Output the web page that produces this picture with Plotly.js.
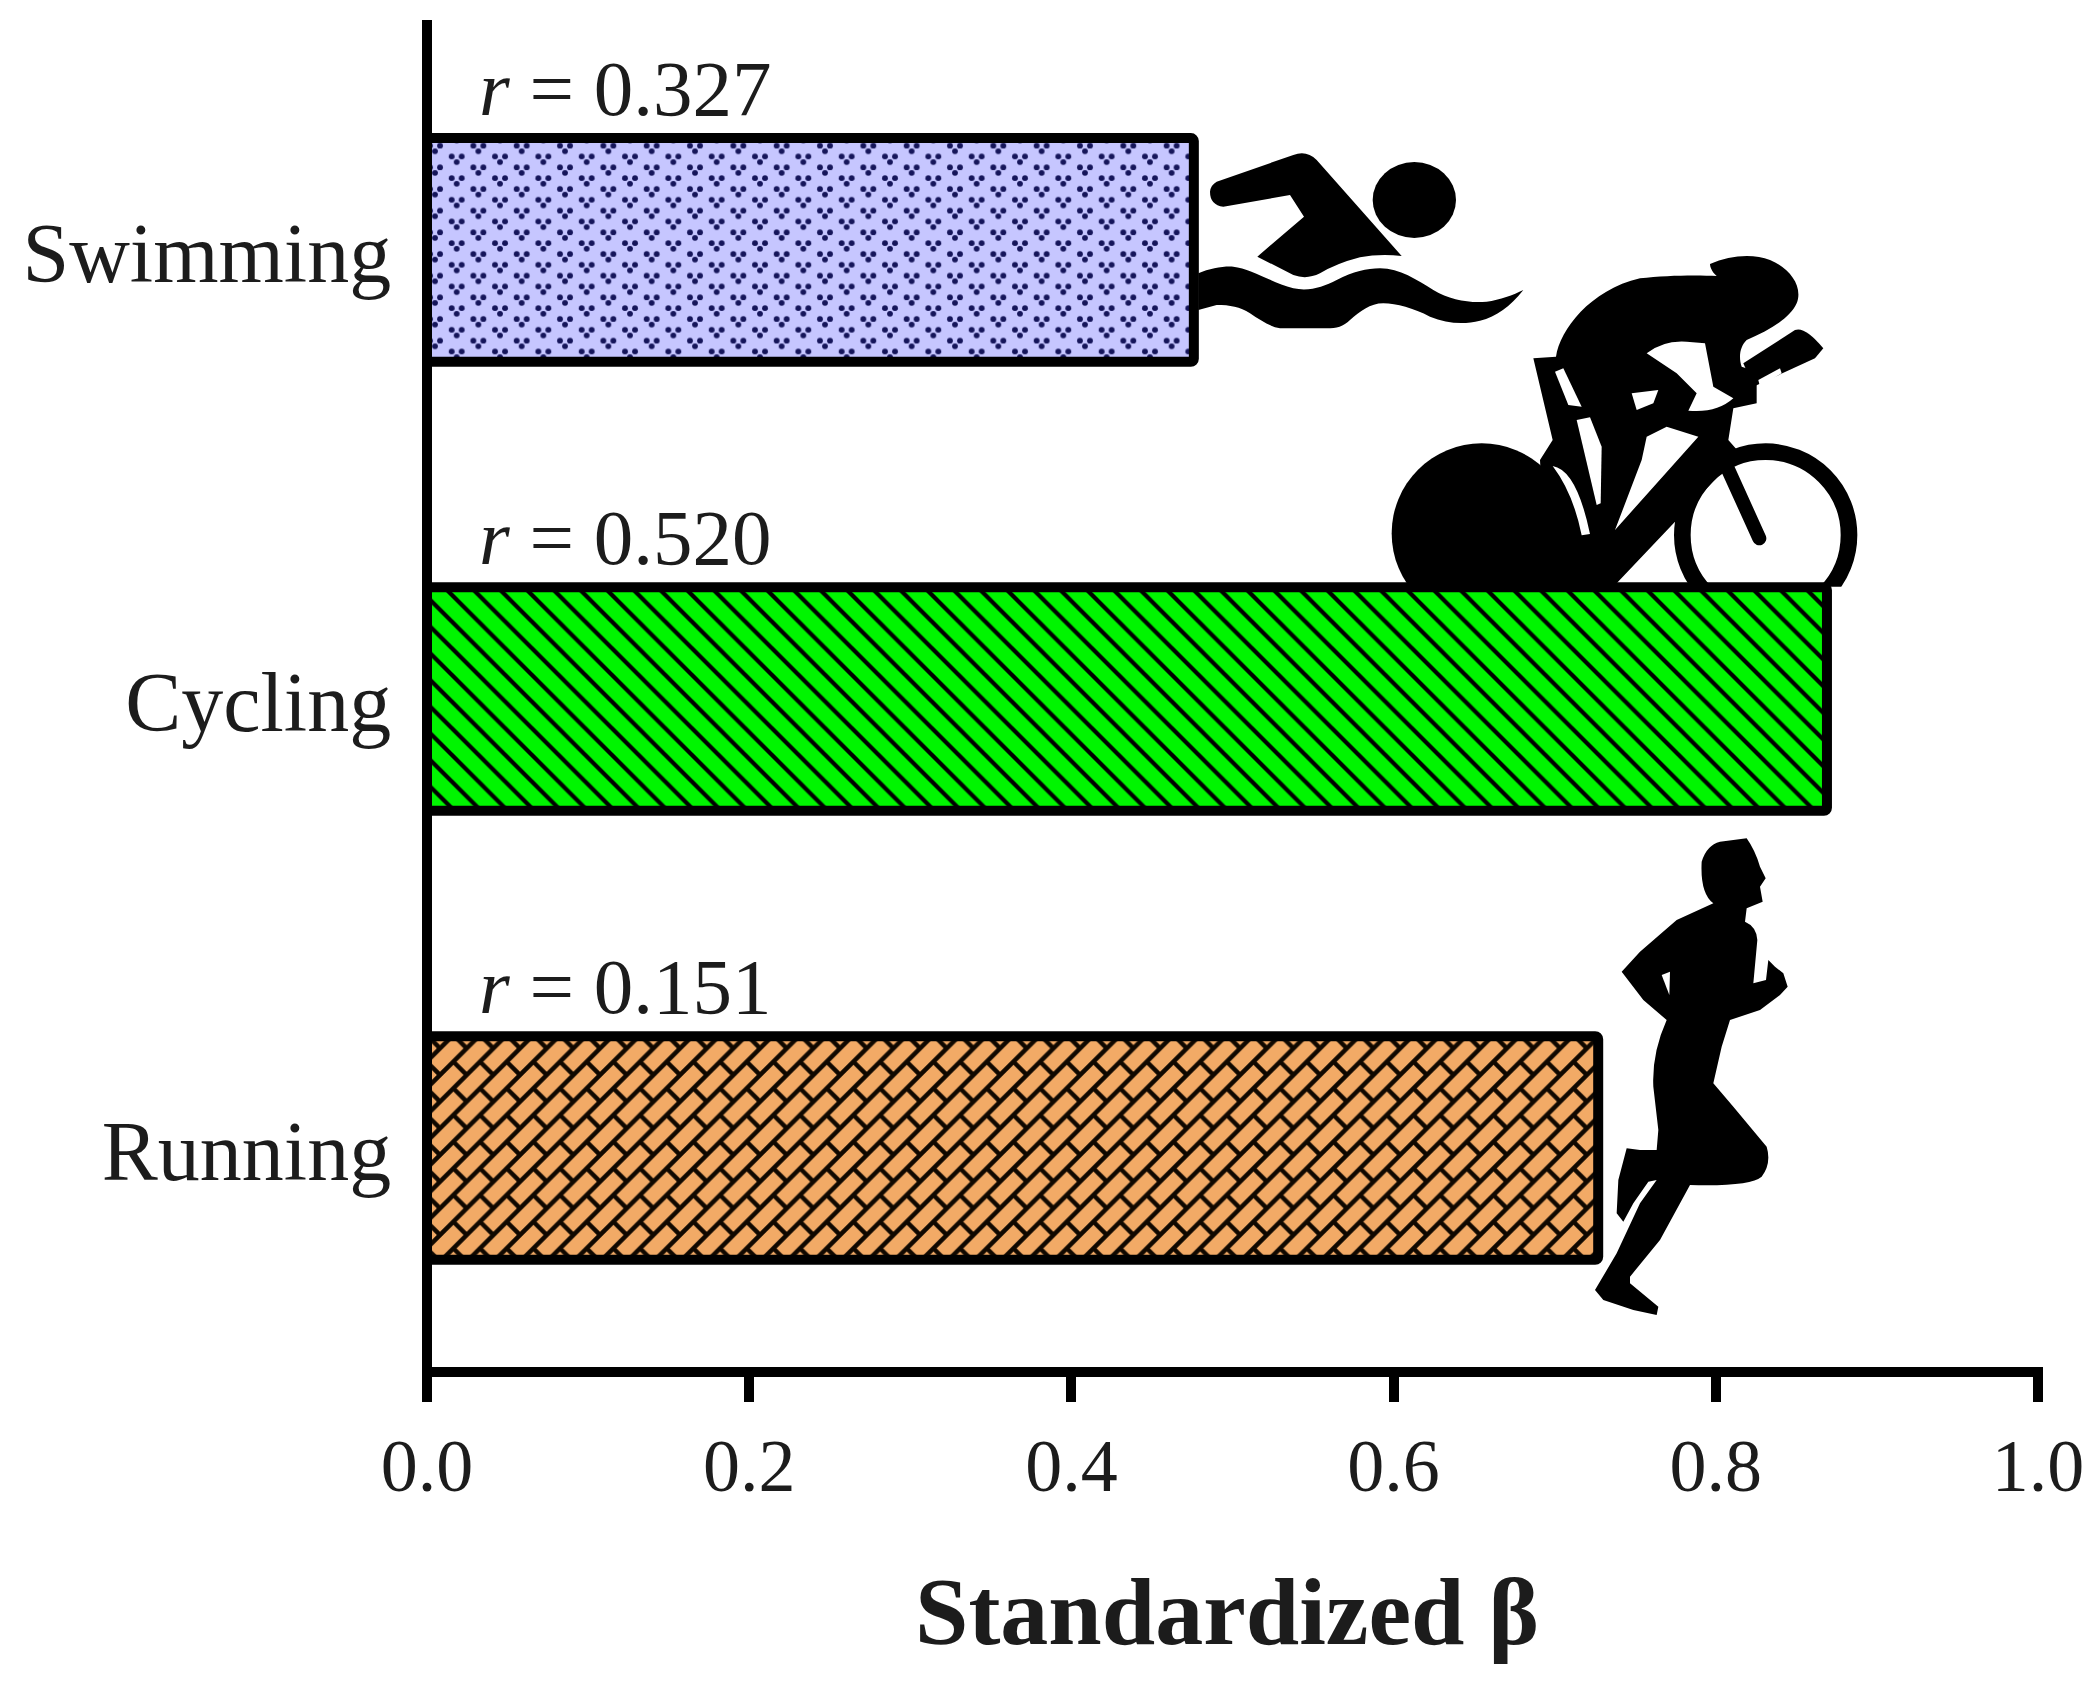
<!DOCTYPE html>
<html>
<head>
<meta charset="utf-8">
<script src="https://cdn.plot.ly/plotly-3.0.1.min.js"></script>
<style>html,body{margin:0;padding:0;background:#fff}#chart{width:2100px;height:1689px}</style>
</head>
<body>
<div id="chart"></div>
<script>
// ---- chart data ----
const categories = ["Running", "Cycling", "Swimming"];
const betaValues = [0.727, 0.869, 0.476];
const rValues = ["0.151", "0.520", "0.327"];
const barColors = ["#f2aa66", "#00f500", "#c6c6ff"];
const xTicks = [0, 0.2, 0.4, 0.6, 0.8, 1.0];
const xTickLabels = ["0.0", "0.2", "0.4", "0.6", "0.8", "1.0"];

// ---- page geometry ----
const W = 2100, H = 1689;
const L = 427, R = 2043, T = 20, B = 1377;
const PW = R - L, PH = B - T;
const TXT = "#1c1c1c";
const SERIF = '"Liberation Serif", serif';

// ---- silhouettes (drawn in their own local picture space) ----
const swimmerSvg = `<svg xmlns="http://www.w3.org/2000/svg" viewBox="0 0 1080 660" preserveAspectRatio="none">
<path fill="#000" d="M110,125 L340,45 Q380,30 410,60 L665,348 Q600,340 540,352 Q470,370 420,400 Q380,420 340,405 L232,350 L372,230 L330,165 L130,200 Q90,195 90,155 Q92,135 110,125 Z"/>
<ellipse fill="#000" cx="703" cy="180" rx="125" ry="114"/>
<path fill="#000" d="M55,400 C90,385 130,378 160,380 C210,385 270,425 340,445 C390,455 430,440 470,420 C520,395 560,385 600,385 C660,385 710,420 760,450 C810,480 870,490 920,485 C960,480 1000,465 1030,450 C990,500 950,530 900,542 C850,555 800,550 750,530 C700,505 650,490 610,490 C570,490 540,515 510,540 C490,560 470,565 440,565 L300,565 C270,560 240,540 210,520 C180,500 150,495 110,495 L55,510 Z"/>
</svg>`;

const cyclistSvg = `<svg xmlns="http://www.w3.org/2000/svg" viewBox="-30 0 1470 1140" preserveAspectRatio="none">
<defs><clipPath id="c"><rect x="-30" y="0" width="1470" height="1040"/></clipPath></defs>
<g clip-path="url(#c)">
<circle cx="245" cy="880" r="270" fill="#000"/>
<circle cx="1097" cy="885" r="250" fill="none" stroke="#000" stroke-width="50"/>
<path fill="#000" d="M400,355 L468,350 C480,270 570,150 720,115 C800,105 900,105 950,108 C935,95 930,80 930,72 C990,45 1060,40 1110,60 C1170,85 1210,140 1190,190 C1170,235 1110,270 1040,300 C1020,320 1015,350 1025,380 L1070,395 L1070,490 L1000,505 L985,600 L1020,640 L640,1040 L440,1040 L420,660 L458,600 Z"/>
<path fill="#000" d="M1030,370 L1185,270 Q1215,258 1270,325 L1245,355 L1060,440 Z"/>
<path fill="none" stroke="#000" stroke-width="42" stroke-linecap="round" d="M985,690 L1078,895"/>
<path fill="#fff" d="M740,340 Q790,300 860,305 L915,310 L940,440 L1000,475 Q950,520 865,512 L890,460 L830,400 Z"/>
<path fill="#fff" d="M695,460 L775,450 L760,490 L710,510 Z"/>
<path fill="#fff" d="M465,395 L490,385 L545,500 L505,495 Z"/>
<path fill="#fff" d="M530,540 L570,532 L605,620 L602,790 L590,795 Z"/>
<path fill="#fff" d="M458,678 Q530,690 570,882 L545,886 Q520,760 458,678 Z"/>
<path fill="#fff" d="M740,590 L800,560 L895,590 L645,870 L725,660 Z"/>
<path fill="#fff" d="M1075,420 L1140,385 L1145,400 L1080,440 Z"/>
</g>
</svg>`;

const runnerSvg = `<svg xmlns="http://www.w3.org/2000/svg" viewBox="0 0 1260 1560" preserveAspectRatio="none">
<path fill="#000" d="M905,125 Q920,75 960,65 L1040,55 Q1065,90 1080,140 L1097,175 L1080,200 L1088,245 L1040,265 L1035,305 Q1070,320 1072,360 L1060,490 L1098,480 L1105,420 L1125,440 L1150,460 L1163,500 L1140,525 L1080,570 L990,600 L965,680 L940,790 L1000,860 L1100,980 Q1115,1030 1085,1070 Q1050,1100 870,1095 L780,1260 L690,1370 L690,1390 L775,1460 L770,1485 L700,1470 L610,1440 L585,1410 L650,1300 L720,1150 L770,1080 L745,1085 L700,1150 L670,1205 L650,1180 L655,1080 L680,985 L720,990 L770,990 L775,930 L760,800 Q755,700 800,600 L730,540 L665,455 L720,395 L830,300 L940,250 Q900,220 905,125 Z"/>
<path fill="#fff" d="M785,465 L810,455 L808,525 Z"/>
</svg>`;

function iconImage(svg, px, py, pw, ph) {
  return {
    source: "data:image/svg+xml;base64," + btoa(svg),
    xref: "paper", yref: "paper",
    x: (px - L) / PW, y: 1 - (py - T) / PH,
    sizex: pw / PW, sizey: ph / PH,
    xanchor: "left", yanchor: "top",
    sizing: "stretch", layer: "above", opacity: 1
  };
}

const trace = {
  type: "bar",
  orientation: "h",
  y: categories,
  x: betaValues,
  width: 0.498,
  marker: {
    color: barColors,
    cornerradius: 3,
    line: { color: "#000", width: 10 },
    pattern: { shape: ".", fgcolor: "#000", bgcolor: barColors, size: 20, solidity: 0.3 }
  },
  hoverinfo: "skip"
};

const annotations = categories.map((c, i) => ({
  xref: "x", yref: "y",
  x: (477 - L) / 1611, y: c,
  text: "<i>r</i> = " + rValues[i],
  showarrow: false,
  xanchor: "left", yanchor: "middle",
  yshift: 161,
  font: { family: SERIF, size: 79, color: TXT }
}));

const layout = {
  width: W, height: H,
  paper_bgcolor: "#fff", plot_bgcolor: "#fff",
  showlegend: false,
  margin: { l: L, r: W - R, t: T, b: H - B, pad: 0 },
  bargap: 0.5,
  xaxis: {
    range: [0, PW / 1611],
    anchor: "free", position: 5 / PH,
    tickmode: "array", tickvals: xTicks, ticktext: xTickLabels,
    ticks: "outside", ticklen: 25, tickwidth: 10, tickcolor: "#000",
    showline: true, linewidth: 10, linecolor: "#000",
    showgrid: false, zeroline: false,
    tickfont: { family: SERIF, size: 74, color: TXT },
    title: { text: '<b>Standardized β</b><span style="font-size:64px">&nbsp;</span>', standoff: 70,
             font: { family: SERIF, size: 96, color: TXT } }
  },
  yaxis: {
    type: "category", categoryorder: "array", categoryarray: categories,
    range: [-0.51, 2.512],
    anchor: "free", position: 0,
    ticks: "", showline: true, linewidth: 10, linecolor: "#000",
    showgrid: false, zeroline: false,
    ticklabelstandoff: 14, ticklabelshift: 3,
    tickfont: { family: SERIF, size: 84, color: TXT }
  },
  annotations: annotations,
  images: [
    iconImage(swimmerSvg, 1180, 140, 360, 220),
    iconImage(cyclistSvg, 1390, 240, 490, 380),
    iconImage(runnerSvg, 1400, 820, 420, 520)
  ]
};

// ---- hatch textures for the bars, swapped in after the library has drawn them ----
const NS = "http://www.w3.org/2000/svg";
function el(name, attrs) {
  const e = document.createElementNS(NS, name);
  Object.keys(attrs).forEach(k => e.setAttribute(k, attrs[k]));
  return e;
}
function fillTile(p, w, h, bg, ox, oy) {
  while (p.firstChild) p.removeChild(p.firstChild);
  p.setAttribute("width", w);
  p.setAttribute("height", h);
  p.setAttribute("patternUnits", "userSpaceOnUse");
  p.setAttribute("patternTransform", "translate(" + (ox - L) + "," + (oy - T) + ")");
  p.appendChild(el("rect", { x: 0, y: 0, width: w, height: h, fill: bg }));
}
function brickTile(p, bg) {
  const S = 26.67;
  fillTile(p, S, S, bg, 446.7 - S / 4, 1055 - S / 4);
  const d = `M${-S},${2*S} L${2*S},${-S} M${-S},${S} L${S},${-S} M0,${2*S} L${2*S},0 ` +
            `M${S/2},${S/2} L${S},${S} M${-S/2},${S/2} L0,${S} M${S/2},${-S/2} L${S},0`;
  p.appendChild(el("path", { d: d, stroke: "#100800", "stroke-width": 4.5, fill: "none" }));
}
function stripeTile(p, bg) {
  const S = 26.67;
  fillTile(p, S, S, bg, 450, 593);
  p.appendChild(el("path", { d: `M${-S},${-S} L${2*S},${2*S} M${-S},0 L${S},${2*S} M0,${-S} L${2*S},${S}`, stroke: "#000", "stroke-width": 4.2, fill: "none" }));
}
function dotTile(p, bg) {
  const w = 43.33, h = 21.67;
  fillTile(p, w, h, bg, 456.7, 158.3);
  const col = "#15155a";
  [[0, 0], [w, 0], [0, h], [w, h], [w / 2, h / 2]].forEach(c => {
    [[-5, -1.8], [5, -1.8], [0, 3.8]].forEach(o => {
      p.appendChild(el("circle", { cx: c[0] + o[0], cy: c[1] + o[1], r: 2.9, fill: col }));
    });
  });
}
const tileMakers = [brickTile, stripeTile, dotTile];

function applyTiles(gd) {
  const paths = gd.querySelectorAll(".bars .point path");
  paths.forEach((path, i) => {
    const m = (path.style.fill || "").match(/#([^"')]+)/);
    if (!m) return;
    const pat = document.getElementById(m[1]);
    if (pat && tileMakers[i]) tileMakers[i](pat, barColors[i]);
  });
}

const gd = document.getElementById("chart");
Plotly.newPlot(gd, [trace], layout, { displayModeBar: false, staticPlot: true }).then(() => applyTiles(gd));
</script>
</body>
</html>
